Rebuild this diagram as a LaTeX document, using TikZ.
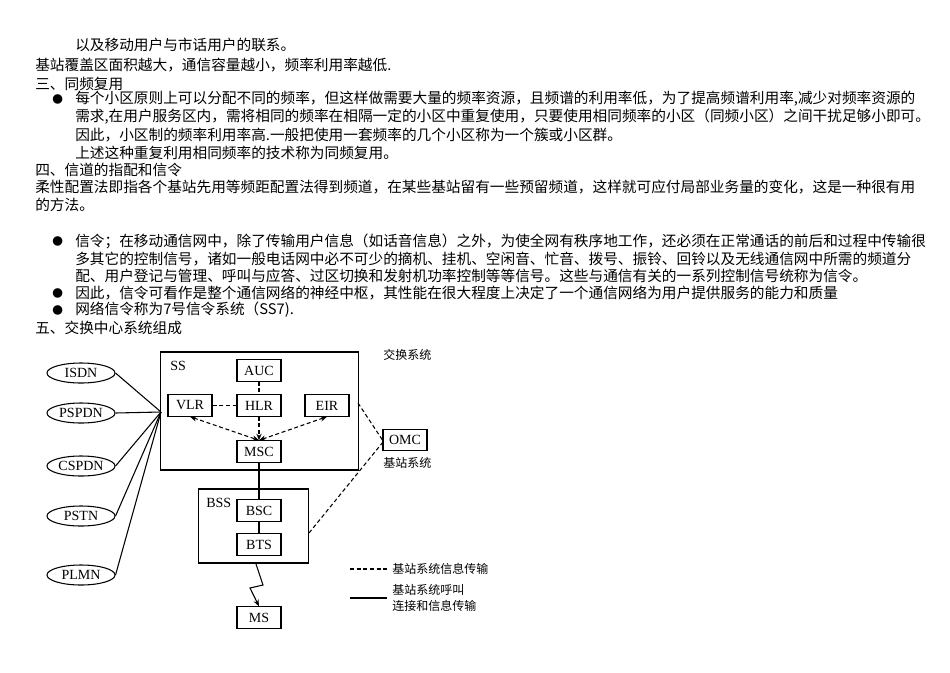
\documentclass[tikz,border=0pt]{standalone}
\usepackage{fontspec}
\setmainfont{Liberation Serif}
\newfontfamily\cjk{Noto Sans CJK SC}
\usetikzlibrary{arrows.meta,shapes.geometric}
\begin{document}
\begin{tikzpicture}[x=0.75pt,y=-0.75pt,
  tl/.style={anchor=west,inner sep=0pt,font=\cjk\fontsize{11}{13}\selectfont},
  bl/.style={anchor=west,inner sep=0pt,font=\cjk\fontsize{8}{10}\selectfont},
  bx/.style={draw,thick,minimum width=33pt,minimum height=16pt,inner sep=0pt,font=\fontsize{10.5}{12}\selectfont},
  el/.style={draw,thick,ellipse,minimum width=51pt,minimum height=15pt,inner sep=0pt,font=\fontsize{10.5}{12}\selectfont},
  dl/.style={thick,dash pattern=on 3pt off 2pt},
  sl/.style={thick},
  dt/.style={anchor=west,inner sep=0pt,font=\cjk\fontsize{9}{10}\selectfont},
  ar/.style={-{Stealth[length=5pt,width=4pt]}}]
\useasboundingbox (0,0) rectangle (950,672);
\node[tl] (t1) at (75,45) {以及移动用户与市话用户的联系。};
\node[tl] (t2) at (35,65) {基站覆盖区面积越大，通信容量越小，频率利用率越低.};
\node[tl] (t3) at (35,84) {三、同频复用};
\node[bl] (b1) at (52,99) {●};
\node[tl] (t4) at (75,99) {每个小区原则上可以分配不同的频率，但这样做需要大量的频率资源，且频谱的利用率低，为了提高频谱利用率,减少对频率资源的};
\node[tl] (t5) at (75,117) {需求,在用户服务区内，需将相同的频率在相隔一定的小区中重复使用，只要使用相同频率的小区（同频小区）之间干扰足够小即可。};
\node[tl] (t6) at (75,135) {因此，小区制的频率利用率高.一般把使用一套频率的几个小区称为一个簇或小区群。};
\node[tl] (t7) at (75,153) {上述这种重复利用相同频率的技术称为同频复用。};
\node[tl] (t8) at (35,170) {四、信道的指配和信令};
\node[tl] (t9) at (35,187) {柔性配置法即指各个基站先用等频距配置法得到频道，在某些基站留有一些预留频道，这样就可应付局部业务量的变化，这是一种很有用};
\node[tl] (t10) at (35,205) {的方法。};
\node[bl] (b2) at (52,241) {●};
\node[tl] (t11) at (75,241) {信令；在移动通信网中，除了传输用户信息（如话音信息）之外，为使全网有秩序地工作，还必须在正常通话的前后和过程中传输很};
\node[tl] (t12) at (75,259) {多其它的控制信号，诸如一般电话网中必不可少的摘机、挂机、空闲音、忙音、拨号、振铃、回铃以及无线通信网中所需的频道分};
\node[tl] (t13) at (75,276) {配、用户登记与管理、呼叫与应答、过区切换和发射机功率控制等等信号。这些与通信有关的一系列控制信号统称为信令。};
\node[bl] (b3) at (52,293) {●};
\node[tl] (t14) at (75,293) {因此，信令可看作是整个通信网络的神经中枢，其性能在很大程度上决定了一个通信网络为用户提供服务的能力和质量};
\node[bl] (b4) at (52,310) {●};
\node[tl] (t15) at (75,310) {网络信令称为7号信令系统（SS7).};
\node[tl] (t16) at (35,328) {五、交换中心系统组成};
% diagram
\node[draw,thick,minimum width=148.5pt,minimum height=88.5pt,inner sep=0pt] (ss) at (259.5,411) {};
\node[anchor=west,inner sep=0pt,font=\fontsize{10.5}{12}\selectfont] (ssl) at (170,366) {SS};
\node[bx] (auc) at (259,370.5) {AUC};
\node[bx] (vlr) at (190,405.5) {VLR};
\node[bx] (hlr) at (259,405.5) {HLR};
\node[bx] (eir) at (327,405.5) {EIR};
\node[bx] (msc) at (259,451.5) {MSC};
\node[draw,thick,minimum width=83pt,minimum height=55.5pt,inner sep=0pt] (bss) at (253.5,526) {};
\node[anchor=west,inner sep=0pt,font=\fontsize{10.5}{12}\selectfont] (bssl) at (206,503) {BSS};
\node[bx] (bsc) at (259,510.5) {BSC};
\node[bx] (bts) at (259,544.5) {BTS};
\node[bx] (ms) at (259,617.5) {MS};
\node[bx] (omc) at (405,440) {OMC};
\node[dt] (jh) at (383,355) {交换系统};
\node[dt] (jz) at (383,463) {基站系统};
\node[el] (isdn) at (81,373) {ISDN};
\node[el] (pspdn) at (81,413) {PSPDN};
\node[el] (cspdn) at (81,466) {CSPDN};
\node[el] (pstn) at (81,516) {PSTN};
\node[el] (plmn) at (81,575) {PLMN};
\coordinate (hub) at (161,412);
\foreach \n in {isdn,pspdn,cspdn,pstn,plmn} \draw[sl] (\n.east) -- (hub);
\draw[dl] (vlr) -- (hlr);
\draw[dl] (auc) -- (hlr);
\draw[dl,ar] (hlr) -- (msc.north);
\draw[dl,{Stealth[length=5pt,width=4pt]}-{Stealth[length=5pt,width=4pt]}] (vlr.south) -- (msc.north);
\draw[dl,{Stealth[length=5pt,width=4pt]}-{Stealth[length=5pt,width=4pt]}] (eir.south) -- (msc.north);
\draw[sl] (msc) -- (bsc);
\draw[sl] (bsc) -- (bts);
\coordinate (z1) at (263,585);
\coordinate (z2) at (250,588);
\draw[sl,ar] (256,564) -- (z1) -- (z2) -- (ms.north);
\draw[dl] (358,403) -- (omc.west);
\draw[dl] (309,533) -- ([yshift=-2pt]omc.west);
\coordinate (l1a) at (350,569); \coordinate (l1b) at (387,569);
\draw[dl] (l1a) -- (l1b);
\node[dt] (lt1) at (392,569) {基站系统信息传输};
\coordinate (l2a) at (350,598); \coordinate (l2b) at (387,598);
\draw[sl] (l2a) -- (l2b);
\node[dt] (lt2) at (392,590) {基站系统呼叫};
\node[dt] (lt3) at (392,606) {连接和信息传输};
\end{tikzpicture}
\end{document}
